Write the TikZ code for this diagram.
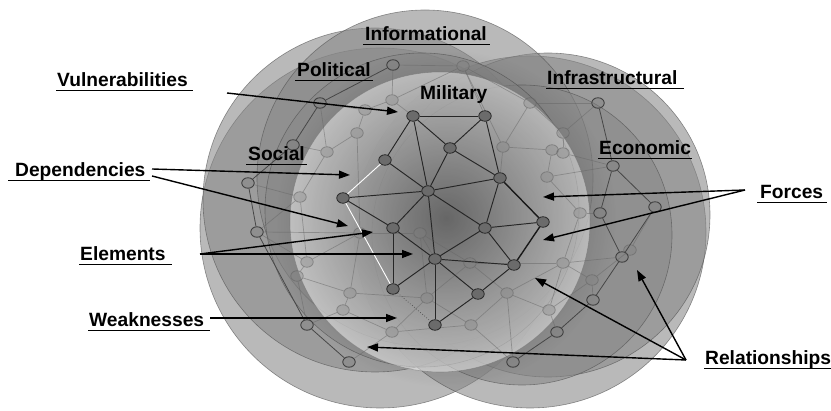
\documentclass[tikz,border=0pt]{standalone}
\usepackage{fontspec}
\setmainfont{Liberation Sans}
\usetikzlibrary{arrows.meta,calc,fadings,shapes.geometric}
\tikzfading[name=coredark,inner color=transparent!0,outer color=transparent!100]
% underline below a label: node name, extra length left, extra length right
\newcommand\tagline[3]{%
  \draw[tagrule] ($(#1.base west)+(-#2,3.6)$) -- ($(#1.base east)+(#3,3.6)$);}
\begin{document}
\begin{tikzpicture}[x=1pt,y=-1pt,
  sphere/.style={fill=black!47, fill opacity=0.58, draw=black!70, draw opacity=0.6, line width=0.6pt},
  milglow/.style={fill=white, fill opacity=0.52, draw=black!55, draw opacity=0.45, line width=0.6pt},
  milnode/.style={ellipse, minimum width=12.5pt, minimum height=10.5pt, inner sep=0pt, fill=black!58, draw=black!85, line width=0.8pt},
  outnode/.style={ellipse, minimum width=12.5pt, minimum height=10.5pt, inner sep=0pt, fill=black!50, fill opacity=0.45, draw=black!75, line width=0.9pt},
  faintnode/.style={ellipse, minimum width=12.5pt, minimum height=10.5pt, inner sep=0pt, fill=black!50, fill opacity=0.3, draw=black!62, draw opacity=0.55, line width=0.8pt},
  milwire/.style={draw=black!85, line width=0.95pt},
  heavywire/.style={draw=black!90, line width=1.4pt},
  lightwire/.style={draw=white, line width=0.9pt},
  dotwire/.style={draw=black!70, line width=0.7pt, dotted},
  outwire/.style={draw=black!72, line width=0.8pt},
  faintwire/.style={draw=black!60, draw opacity=0.5, line width=0.7pt},
  tag/.style={anchor=base west, inner sep=0pt, font=\bfseries\fontsize{19.2}{23}\selectfont},
  tagrule/.style={line width=1.8pt},
  pointer/.style={line width=1.4pt, -{Triangle[length=11pt,width=8pt]}}
]
\useasboundingbox (0,0) rectangle (831,411);
\clip (0,0) rectangle (831,411);

% ---- domain spheres ----
\path[sphere] (380,228) circle (180pt);   % social
\path[sphere] (530,232) circle (176pt);   % economic
\path[sphere] (375,200) circle (172pt);   % political
\path[sphere] (548,215) circle (162pt);   % infrastructural
\path[sphere] (425,178) circle (168pt);   % informational
\path[sphere] (522,235) circle (150pt);   % economic core
\path[sphere] (422,210) circle (157pt);   % military shell
\path[milglow] (440,222) circle (150pt);  % military face
\fill[black, fill opacity=0.48, path fading=coredark] (446,218) circle (170pt);

% ---- faint nodes of the layers behind ----
\foreach \n/\p in {f1/{392,100}, f2/{365,110}, f3/{357,133}, f4/{327,152}, f5/{300,197},
  f6/{307,262}, f7/{297,276}, f8/{350,293}, f9/{343,310}, f10/{392,332}, f11/{427,298},
  f12/{471,325}, f13/{507,293}, f14/{549,310}, f15/{563,263}, f16/{580,213}, f17/{547,177},
  f18/{552,150}, f19/{530,103}, f20/{463,66}, f21/{360,233}, f22/{420,233}, f23/{470,263},
  f25/{503,147}, f26/{563,133}, f27/{563,153}, f28/{630,250}, f29/{592,280}}
  \node[faintnode] (\n) at (\p) {};

% ---- outer nodes ----
\foreach \n/\p in {o1/{393,65}, o2/{320,103}, o3/{293,145}, o4/{248,183}, o5/{257,232},
  o6/{307,325}, o7/{349,362}, o8/{598,103}, o9/{613,166}, o10/{655,207}, o11/{600,213},
  o12/{622,257}, o13/{593,300}, o14/{557,332}, o15/{513,362}}
  \node[outnode] (\n) at (\p) {};

% faint lattice
\foreach \a/\b in {f1/f2, f2/f3, f3/f4, f4/f5, f5/f6, f6/f7, f7/f8, f8/f9, f9/f10, f10/f11,
  f11/f8, f10/f12, f12/f11, f12/f13, f13/f14, f14/f15, f15/f13, f15/f16, f16/f17, f17/f18,
  f18/f27, f27/f26, f26/f19, f19/f20, f20/f1, f25/f19, f25/f18, f3/f21, f21/f6, f21/f22,
  f22/f23, f23/f15, f23/f13, f23/f11, f22/f11, f21/f8, f28/f29, f29/f14, f29/f15, f20/f25,
  o1/f1, o1/f20, o2/f2, o2/f4, o3/f4, o4/f5, o5/f5, o5/f6, o5/f21, o6/f7, o6/f9, o7/f10,
  o8/f19, o8/f26, o9/f17, o9/f27, o11/f16, o12/f15, o12/f28, o13/f29, o14/f14, o15/f13,
  o15/f12, o10/f28}
  \draw[faintwire] (\a) -- (\b);

% outer wires
\foreach \a/\b in {o1/o2, o2/o3, o3/o4, o4/o5, o5/o6, o6/o7, o8/o9, o9/o10, o9/o11,
  o10/o12, o11/o12, o12/o13, o13/o14, o14/o15}
  \draw[outwire] (\a) -- (\b);

% ---- military network ----
\node[milnode] (M1) at (413,116) {};
\node[milnode] (M2) at (485,116) {};
\node[milnode] (M3) at (450,148) {};
\node[milnode] (M4) at (385,160) {};
\node[milnode] (M5) at (500,178) {};
\node[milnode] (M6) at (428,191) {};
\node[milnode] (M7) at (343,198) {};
\node[milnode] (M8) at (393,228) {};
\node[milnode] (M9) at (435,259) {};
\node[milnode] (M10) at (485,228) {};
\node[milnode] (M11) at (543,222) {};
\node[milnode] (M12) at (514,265) {};
\node[milnode] (M13) at (393,289) {};
\node[milnode] (M14) at (478,294) {};
\node[milnode] (M15) at (435,325) {};

\foreach \a/\b in {f1/M1, f20/M2, f25/M5, f22/M9}
  \draw[faintwire] (\a) -- (\b);

\foreach \a/\b in {M1/M2, M1/M3, M2/M3, M1/M4, M1/M6, M3/M6, M3/M5, M2/M5, M4/M6, M7/M6,
  M6/M5, M5/M10, M7/M8, M6/M8, M6/M9, M6/M10, M8/M9, M8/M13, M9/M10, M10/M11, M10/M12,
  M9/M12, M9/M13, M9/M14, M12/M14, M14/M15, M9/M15}
  \draw[milwire] (\a) -- (\b);
\draw[heavywire] (M5) -- (M11);
\draw[heavywire] (M11) -- (M12);
\draw[lightwire] (M4) -- (M7);
\draw[lightwire] (M7) -- (M13);
\draw[dotwire] (M13) -- (M15);

% ---- domain names ----
\node[tag] (informational) at (365,41) {Informational};
\tagline{informational}{2}{3}
\node[tag] (political) at (297,77) {Political};
\tagline{political}{2}{2}
\node[tag] (military) at (420,100) {Military};
\node[tag] (infrastructural) at (547,85) {Infrastructural};
\tagline{infrastructural}{1}{6}
\node[tag] (economic) at (599,155) {Economic};
\tagline{economic}{1}{1}
\node[tag] (social) at (248,161) {Social};
\tagline{social}{2}{2}

% ---- callouts ----
\node[tag] (vulnerabilities) at (57,87) {Vulnerabilities};
\tagline{vulnerabilities}{1}{5}
\node[tag] (dependencies) at (15,177) {Dependencies};
\tagline{dependencies}{7}{4}
\node[tag] (forces) at (760,199) {Forces};
\tagline{forces}{3}{4}
\node[tag] (elements) at (80,261) {Elements};
\tagline{elements}{1}{6}
\node[tag] (weaknesses) at (89,327) {Weaknesses};
\tagline{weaknesses}{1}{6}
\node[tag] (relationships) at (705,365) {Relationships};
\tagline{relationships}{1}{0}

\coordinate (vulS) at (227,93);  \coordinate (vulT) at (398,112);
\coordinate (depS1) at (152,169); \coordinate (depT1) at (350,175);
\coordinate (depS2) at (152,176); \coordinate (depT2) at (348,226);
\coordinate (eleS) at (200,254); \coordinate (eleT1) at (373,232); \coordinate (eleT2) at (413,254);
\coordinate (weaS) at (210,318); \coordinate (weaT) at (397,318);
\coordinate (forS) at (745,190); \coordinate (forT1) at (543,197); \coordinate (forT2) at (543,240);
\coordinate (relS) at (686,360); \coordinate (relT1) at (637,270); \coordinate (relT2) at (535,278);
\coordinate (relT3) at (367,347);

\draw[pointer] (vulS) -- (vulT);
\draw[pointer] (depS1) -- (depT1);
\draw[pointer] (depS2) -- (depT2);
\draw[pointer] (eleS) -- (eleT1);
\draw[pointer] (eleS) -- (eleT2);
\draw[pointer] (weaS) -- (weaT);
\draw[pointer] (forS) -- (forT1);
\draw[pointer] (forS) -- (forT2);
\draw[pointer] (relS) -- (relT1);
\draw[pointer] (relS) -- (relT2);
\draw[pointer] (relS) -- (relT3);
\end{tikzpicture}
\end{document}
